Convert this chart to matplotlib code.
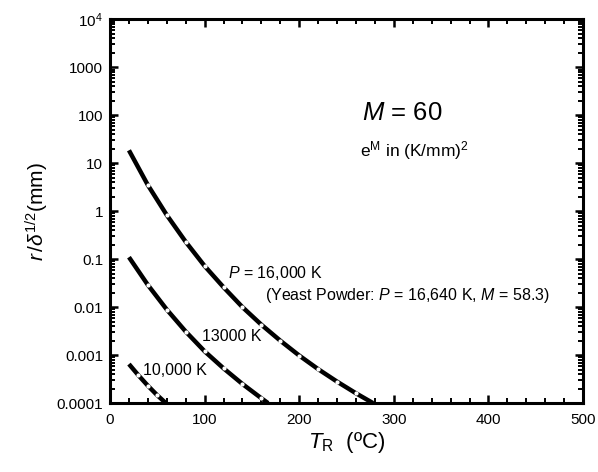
import matplotlib
matplotlib.use("Agg")
import matplotlib.pyplot as plt
from matplotlib.ticker import LogLocator, MultipleLocator, FixedLocator, FixedFormatter, NullFormatter

plt.rcParams['font.family'] = ['Liberation Sans', 'DejaVu Sans']
plt.rcParams['mathtext.fontset'] = 'custom'
plt.rcParams['mathtext.rm'] = 'Liberation Sans'
plt.rcParams['mathtext.it'] = 'Liberation Sans:italic'

# temperature (C) and r/delta^(1/2) (mm)
t_16000 = [20, 40, 60, 80, 100, 120, 140, 160, 180, 200, 220, 240, 260, 278]
y_16000 = [18.6, 3.5, 0.83, 0.23, 0.072, 0.026, 0.010, 0.0043, 0.0020,
           9.8e-4, 5.1e-4, 2.8e-4, 1.6e-4, 1.0e-4]

t_13000 = [20, 40, 60, 80, 100, 120, 140, 160, 167]
y_13000 = [0.11, 0.029, 0.0089, 0.0031, 0.0012, 5.3e-4, 2.5e-4, 1.26e-4, 1.0e-4]

t_10000 = [20, 30, 40, 50, 59]
y_10000 = [6.5e-4, 3.8e-4, 2.3e-4, 1.45e-4, 1.0e-4]

y_ticks = [1e-4, 1e-3, 1e-2, 0.1, 1, 10, 100, 1000, 1e4]
y_tick_labels = ["0.0001", "0.001", "0.01", "0.1", "1", "10", "100", "1000", "$\\mathregular{10^4}$"]

fig = plt.figure(figsize=(5.98, 4.72), dpi=100)
ax = fig.add_axes([0.184, 0.146, 0.791, 0.813])

for t, y in [(t_16000, y_16000), (t_13000, y_13000), (t_10000, y_10000)]:
    ax.plot(t, y, color="black", lw=3.2, solid_capstyle="butt", zorder=2)
    ax.plot(t[1:-1], y[1:-1], ls="none", marker="o", ms=2.0,
            mfc="white", mec="white", zorder=3)

ax.set_yscale("log")
ax.set_xlim(0, 500)
ax.set_ylim(1e-4, 1e4)

ax.xaxis.set_major_locator(MultipleLocator(100))
ax.xaxis.set_minor_locator(MultipleLocator(20))
ax.yaxis.set_major_locator(FixedLocator(y_ticks))
ax.yaxis.set_major_formatter(FixedFormatter(y_tick_labels))
ax.yaxis.set_minor_locator(LogLocator(base=10, subs=range(2, 10), numticks=20))
ax.yaxis.set_minor_formatter(NullFormatter())

for s in ax.spines.values():
    s.set_linewidth(2.2)
ax.tick_params(which="both", direction="in", top=True, right=True, labelsize=11)
ax.tick_params(which="major", length=6, width=1.8)
ax.tick_params(which="minor", length=3.5, width=1.4)
ax.tick_params(axis="x", pad=7)
ax.tick_params(axis="y", pad=5)

ax.set_xlabel("$T_{\\mathregular{R}}$  (ºC)", fontsize=16, labelpad=2)
ax.set_ylabel("$r\\,/\\delta^{\\mathregular{1/2}}$(mm)", fontsize=15, labelpad=4)

ax.text(266, 110, "$M$ = 60", fontsize=18.5, va="center")
ax.text(264, 18, "e$^{\\mathregular{M}}$ in (K/mm)$^{\\mathregular{2}}$", fontsize=12.5, va="center")
ax.text(125, 0.052, "$P$ = 16,000 K", fontsize=11.5, va="center")
ax.text(164, 0.0174, "(Yeast Powder: $P$ = 16,640 K, $M$ = 58.3)", fontsize=11.5, va="center")
ax.text(97, 0.0025, "13000 K", fontsize=11.5, va="center")
ax.text(35, 4.7e-4, "10,000 K", fontsize=11.5, va="center")

fig.savefig("out.png", dpi=100)
